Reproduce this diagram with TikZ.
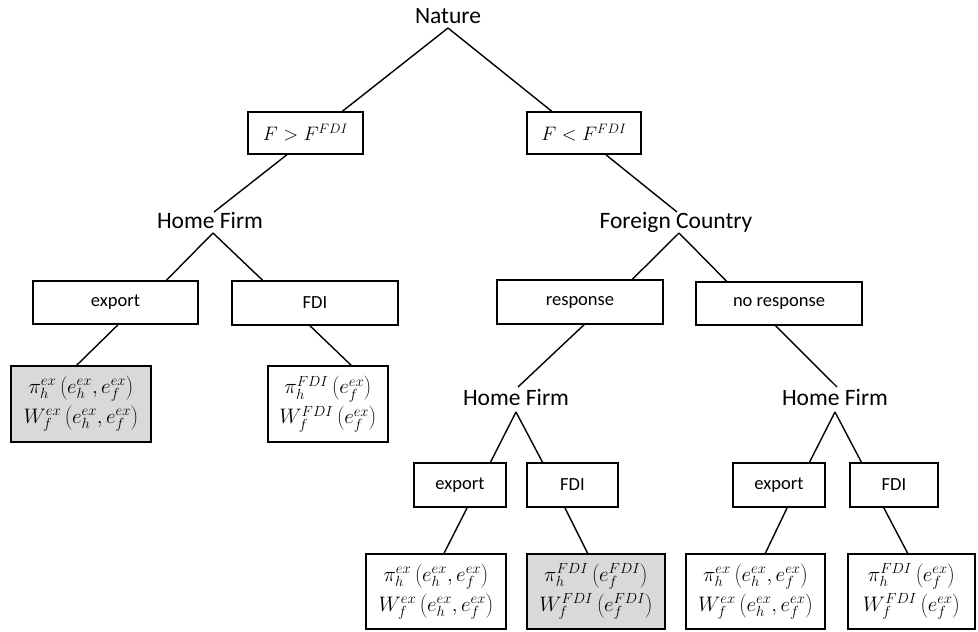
\RequirePackage{fix-cm}
\documentclass[tikz,border=0pt]{standalone}
\usepackage{fontspec}
\setmainfont{Carlito}
\usetikzlibrary{calc}
\definecolor{payoffgray}{RGB}{217,217,217}
\tikzset{
  lbl/.style={anchor=base, inner sep=0pt, font=\fontsize{23.5}{28}\selectfont},
  box/.style={draw, line width=1.6pt, inner sep=0pt, align=center, font=\fontsize{18.5}{22}\selectfont},
  condbox/.style={box, font=\fontsize{19.5}{24}\selectfont},
  payoff/.style={box, font=\fontsize{21}{30}\selectfont},
  shaded/.style={fill=payoffgray},
  edge/.style={line width=1.4pt},
}
\begin{document}
\begin{tikzpicture}[x=1pt,y=-1pt]
\useasboundingbox (0,0) rectangle (978,632);
% decision / player labels
\node[lbl] (nat) at (448,23) {Nature};
\node[lbl] (hf1) at (210,228) {Home Firm};
\node[lbl] (fc)  at (676,228) {Foreign Country};
\node[lbl] (hf2) at (516,405) {Home Firm};
\node[lbl] (hf3) at (835,405) {Home Firm};
\coordinate (natA) at ($(nat.base)+(0,5)$);
\coordinate (hf1A) at ($(hf1.base)+(3,5)$);
\coordinate (hf1T) at ($(hf1.base)+(4,-16)$);
\coordinate (fcA)  at ($(fc.base)+(3,5)$);
\coordinate (fcT)  at ($(fc.base)+(1,-16)$);
\coordinate (hf2A) at ($(hf2.base)+(0,7)$);
\coordinate (hf2T) at ($(hf2.base)+(2,-18)$);
\coordinate (hf3A) at ($(hf3.base)+(0,7)$);
\coordinate (hf3T) at ($(hf3.base)+(2,-18)$);
% condition boxes
\node[condbox, minimum width=115pt, minimum height=42pt] (c1) at (305.5,133) {$F > F^{FDI}$};
\node[condbox, minimum width=114pt, minimum height=42pt] (c2) at (584,133) {$F < F^{FDI}$};
% action boxes
\node[box, minimum width=165pt, minimum height=43pt] (a1) at (115.5,302.5) {export};
\node[box, minimum width=166pt, minimum height=44pt] (a2) at (315,303) {FDI};
\node[box, minimum width=166pt, minimum height=44pt] (a3) at (580,302) {response};
\node[box, minimum width=166pt, minimum height=43pt] (a4) at (779,303.5) {no response};
\node[box, minimum width=92pt, minimum height=44pt] (b1) at (460,485) {export};
\node[box, minimum width=91pt, minimum height=44pt] (b2) at (572.5,485) {FDI};
\node[box, minimum width=92pt, minimum height=44pt] (b3) at (779,485) {export};
\node[box, minimum width=88pt, minimum height=44pt] (b4) at (894,485) {FDI};
% payoff boxes
\node[payoff, shaded, minimum width=140pt, minimum height=76pt] (p1) at (81,404)
  {$\pi_h^{ex}\left(e_h^{ex},e_f^{ex}\right)$\\ $W_f^{ex}\left(e_h^{ex},e_f^{ex}\right)$};
\node[payoff, minimum width=120pt, minimum height=76pt] (p2) at (328,404)
  {$\pi_h^{FDI}\left(e_f^{ex}\right)$\\ $W_f^{FDI}\left(e_f^{ex}\right)$};
\node[payoff, minimum width=140pt, minimum height=75pt] (q1) at (436,591.5)
  {$\pi_h^{ex}\left(e_h^{ex},e_f^{ex}\right)$\\ $W_f^{ex}\left(e_h^{ex},e_f^{ex}\right)$};
\node[payoff, shaded, minimum width=138pt, minimum height=75pt] (q2) at (596,591.5)
  {$\pi_h^{FDI}\left(e_f^{FDI}\right)$\\ $W_f^{FDI}\left(e_f^{FDI}\right)$};
\node[payoff, minimum width=139pt, minimum height=75pt] (q3) at (755.5,591.5)
  {$\pi_h^{ex}\left(e_h^{ex},e_f^{ex}\right)$\\ $W_f^{ex}\left(e_h^{ex},e_f^{ex}\right)$};
\node[payoff, minimum width=127pt, minimum height=75pt] (q4) at (911.5,591.5)
  {$\pi_h^{FDI}\left(e_f^{ex}\right)$\\ $W_f^{FDI}\left(e_f^{ex}\right)$};
% connectors
\draw[edge] (natA) -- ($(c1.north west)!0.817!(c1.north east)$);
\draw[edge] (natA) -- ($(c2.north west)!0.22!(c2.north east)$);
\draw[edge] ($(c1.south west)!0.34!(c1.south east)$) -- (hf1T);
\draw[edge] ($(c2.south west)!0.69!(c2.south east)$) -- (fcT);
\draw[edge] (hf1A) -- ($(a1.north west)!0.806!(a1.north east)$);
\draw[edge] (hf1A) -- ($(a2.north west)!0.187!(a2.north east)$);
\draw[edge] (fcA) -- ($(a3.north west)!0.813!(a3.north east)$);
\draw[edge] (fcA) -- ($(a4.north west)!0.187!(a4.north east)$);
\draw[edge] ($(a1.south west)!0.515!(a1.south east)$) -- ($(p1.north west)!0.47!(p1.north east)$);
\draw[edge] ($(a2.south west)!0.47!(a2.south east)$) -- ($(p2.north west)!0.69!(p2.north east)$);
\draw[edge] ($(a3.south west)!0.524!(a3.south east)$) -- (hf2T);
\draw[edge] ($(a4.south west)!0.48!(a4.south east)$) -- (hf3T);
\draw[edge] (hf2A) -- ($(b1.north west)!0.826!(b1.north east)$);
\draw[edge] (hf2A) -- ($(b2.north west)!0.176!(b2.north east)$);
\draw[edge] (hf3A) -- ($(b3.north west)!0.826!(b3.north east)$);
\draw[edge] (hf3A) -- ($(b4.north west)!0.136!(b4.north east)$);
\draw[edge] ($(b1.south west)!0.576!(b1.south east)$) -- ($(q1.north west)!0.557!(q1.north east)$);
\draw[edge] ($(b2.south west)!0.418!(b2.south east)$) -- ($(q2.north west)!0.44!(q2.north east)$);
\draw[edge] ($(b3.south west)!0.587!(b3.south east)$) -- ($(q3.north west)!0.57!(q3.north east)$);
\draw[edge] ($(b4.south west)!0.386!(b4.south east)$) -- ($(q4.north west)!0.47!(q4.north east)$);
\end{tikzpicture}
\end{document}
